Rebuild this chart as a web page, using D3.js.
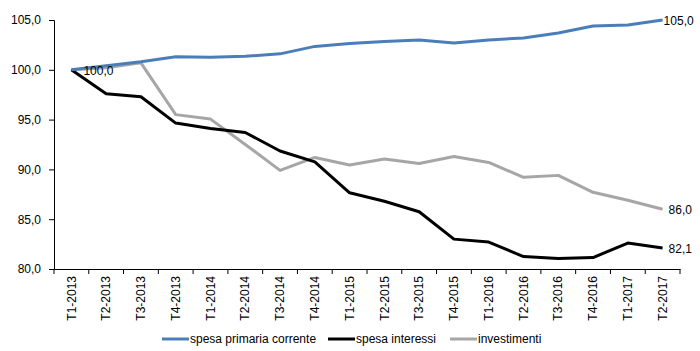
<!DOCTYPE html>
<html>
<head>
<meta charset="utf-8">
<script src="https://cdn.jsdelivr.net/npm/d3@7"></script>
<style>
  body { margin: 0; background: #fff; }
  text { font-family: "Liberation Sans", Arial, sans-serif; }
</style>
</head>
<body>
<div id="chart"></div>
<script>
/* Spesa primaria corrente, interessi, investimenti (T1-2013 = 100) */

const quarters = ["T1-2013","T2-2013","T3-2013","T4-2013","T1-2014","T2-2014","T3-2014","T4-2014",
                  "T1-2015","T2-2015","T3-2015","T4-2015","T1-2016","T2-2016","T3-2016","T4-2016",
                  "T1-2017","T2-2017"];

const primaria = [100.0, 100.4, 100.8, 101.3, 101.25, 101.35, 101.6, 102.35, 102.65, 102.85,
                  103.0, 102.7, 103.0, 103.2, 103.7, 104.4, 104.5, 105.0];

const interessi = [100.0, 97.6, 97.3, 94.65, 94.1, 93.7, 91.85, 90.75, 87.65, 86.8,
                   85.75, 83.0, 82.7, 81.25, 81.05, 81.15, 82.6, 82.1];

const investimenti = [100.0, 100.2, 100.7, 95.5, 95.05, 92.5, 89.9, 91.2, 90.45, 91.05,
                      90.6, 91.3, 90.7, 89.2, 89.4, 87.7, 86.9, 86.0];

const yTicks = [80, 85, 90, 95, 100, 105];

const seriesNames = ["spesa primaria corrente", "spesa interessi", "investimenti"];
const seriesColors = ["#4a7ebb", "#000000", "#a6a6a6"];

const width = 700, height = 351,
      margin = ({top: 20, right: 20, bottom: 82, left: 54});

const fmt = v => d3.format(".1f")(v).replace(".", ",");

let svg = d3.select("#chart")
            .append("svg")
            .attr("width", width)
            .attr("height", height);

const x = d3.scaleBand()
            .domain(quarters)
            .range([margin.left, 680]);

const y = d3.scaleLinear()
            .domain([80, 105])
            .range([height - margin.bottom, margin.top]);

// y axis
svg.append("g")
    .attr("transform", `translate(${margin.left},0)`)
    .call(d3.axisLeft(y).tickValues(yTicks).tickFormat(fmt).tickSizeOuter(0).tickSize(5).tickPadding(8))
    .call(g => g.selectAll("text").attr("font-size", 12).attr("fill", "#000").attr("font-family", "Liberation Sans, Arial, sans-serif"))
    .call(g => g.selectAll("line, path").attr("stroke", "#000"));

// x axis: labels at band centre, tick marks on band edges
const xg = svg.append("g")
    .attr("transform", `translate(0,${y(80)})`)
    .call(d3.axisBottom(x).tickSize(0).tickSizeOuter(0).tickPadding(0))
    .call(g => g.select(".domain").attr("stroke", "#000"));

xg.selectAll("text")
    .attr("font-size", 12)
    .attr("fill", "#000")
    .attr("font-family", "Liberation Sans, Arial, sans-serif")
    .attr("text-anchor", "end")
    .attr("transform", "rotate(-90)")
    .attr("x", -7)
    .attr("y", 0)
    .attr("dy", "0.35em");

xg.selectAll(".edge")
    .data(quarters.concat(["end"]))
    .join("line")
    .attr("class", "edge")
    .attr("x1", (d, i) => x.range()[0] + i * x.step())
    .attr("x2", (d, i) => x.range()[0] + i * x.step())
    .attr("y1", 0)
    .attr("y2", 5)
    .attr("stroke", "#000");

const line = d3.line()
    .x((d, i) => x(quarters[i]) + x.bandwidth() / 2)
    .y(d => y(d));

const allSeries = [primaria, interessi, investimenti];

// draw gray first, then black, then blue on top
[2, 1, 0].forEach(k => {
    svg.append("path")
        .datum(allSeries[k])
        .attr("fill", "none")
        .attr("stroke", seriesColors[k])
        .attr("stroke-width", 3)
        .attr("stroke-linejoin", "round")
        .attr("d", line);
});

// value labels
const last = quarters.length - 1;
const xLast = x(quarters[last]) + x.bandwidth() / 2;

svg.append("text")
    .attr("x", x(quarters[0]) + x.bandwidth() / 2 + 12)
    .attr("y", y(primaria[0]) + 1)
    .attr("dy", "0.35em")
    .attr("font-size", 12)
    .text(fmt(primaria[0]));

svg.append("text")
    .attr("x", xLast + 1)
    .attr("y", y(primaria[last]) + 1)
    .attr("dy", "0.35em")
    .attr("font-size", 12)
    .text(fmt(primaria[last]));

svg.append("text")
    .attr("x", xLast + 6)
    .attr("y", y(investimenti[last]) + 1)
    .attr("dy", "0.35em")
    .attr("font-size", 12)
    .text(fmt(investimenti[last]));

svg.append("text")
    .attr("x", xLast + 6)
    .attr("y", y(interessi[last]) + 1)
    .attr("dy", "0.35em")
    .attr("font-size", 12)
    .text(fmt(interessi[last]));

// legend
const legendX = [162, 328, 450];
let legend = svg.selectAll(".legend")
    .data(seriesNames)
    .join("g")
    .attr("class", "legend")
    .attr("transform", (d, i) => `translate(${legendX[i]},339)`);

legend.append("line")
    .attr("x1", 0)
    .attr("x2", 27)
    .attr("stroke", (d, i) => seriesColors[i])
    .attr("stroke-width", 3);

legend.append("text")
    .attr("x", 28)
    .attr("dy", "0.35em")
    .attr("font-size", 12)
    .text(d => d);
</script>
</body>
</html>
